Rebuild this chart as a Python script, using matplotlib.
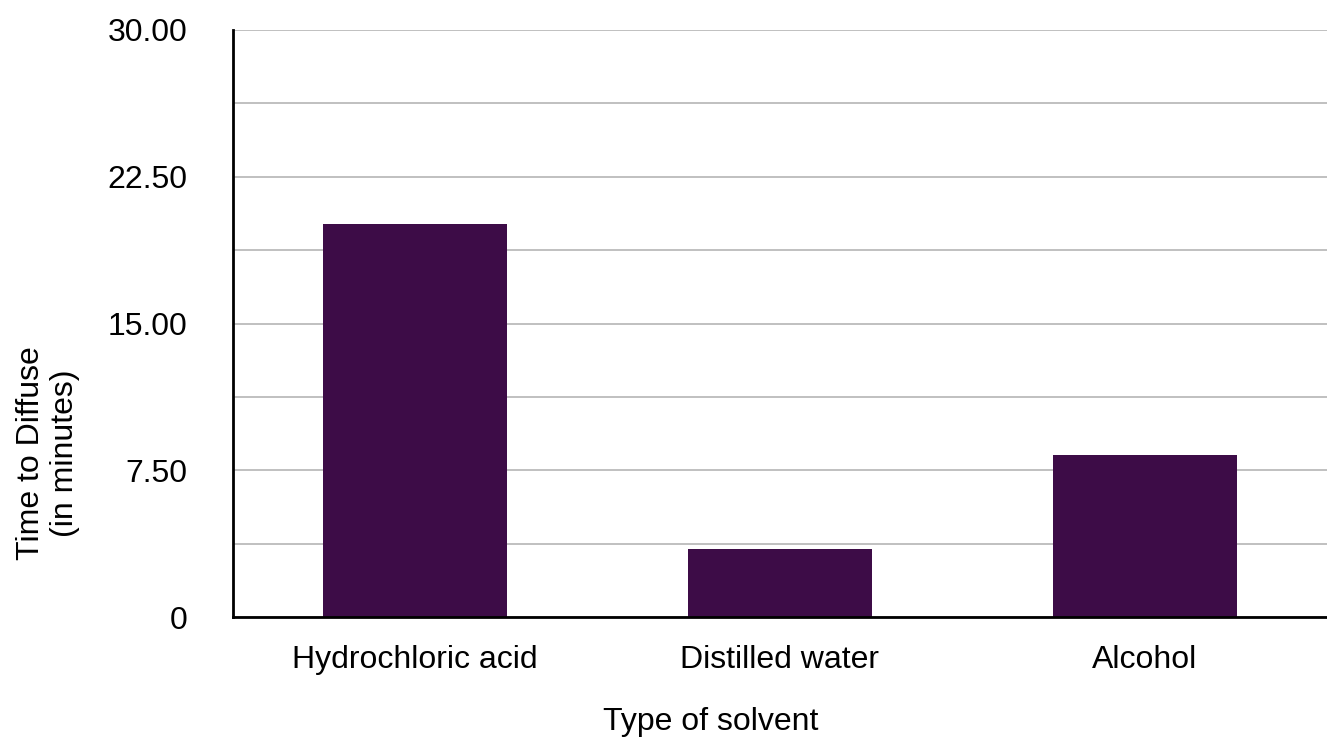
import matplotlib
matplotlib.use("Agg")
import matplotlib.pyplot as plt
from matplotlib.ticker import MultipleLocator, FuncFormatter

plt.rcParams["font.family"] = ["Liberation Sans", "DejaVu Sans"]

solvents = ["Hydrochloric acid", "Distilled water", "Alcohol"]
minutes = [20.1, 3.5, 8.3]
ytick_values = [0, 7.5, 15, 22.5, 30]

fig = plt.figure(figsize=(13.27, 7.40), dpi=100)
ax = fig.add_axes([0.1755, 0.166, 0.8245, 0.7935])

x = range(len(solvents))
ax.bar(x, minutes, width=0.505, color="#3d0c47", zorder=3)

ax.set_xlim(-0.5, len(solvents) - 0.5)
ax.set_ylim(0, 30)
ax.set_yticks(ytick_values)
ax.yaxis.set_major_formatter(FuncFormatter(lambda v, p: "0" if v == 0 else f"{v:.2f}"))
ax.yaxis.set_minor_locator(MultipleLocator(3.75))
ax.set_xticks(list(x))
ax.set_xticklabels(solvents)

ax.grid(axis="y", which="both", color="#c0c0c0", linewidth=1.4, zorder=0)
ax.tick_params(axis="both", which="both", length=0, labelsize=23)
ax.tick_params(axis="y", pad=33)
ax.tick_params(axis="x", pad=20)

for side in ["top", "right"]:
    ax.spines[side].set_visible(False)
ax.spines["left"].set_linewidth(2)
ax.spines["bottom"].set_linewidth(2)
ax.spines["left"].set_zorder(4)
ax.spines["bottom"].set_zorder(4)

ax.set_xlabel("Type of solvent", fontsize=23)
ax.set_ylabel("Time to Diffuse\n(in minutes)", fontsize=23)
ax.xaxis.set_label_coords(0.437, -0.178)
ax.yaxis.set_label_coords(-0.169, 0.279)
ax.yaxis.label.set_verticalalignment("center")
ax.xaxis.label.set_verticalalignment("center")

fig.savefig("out.png", dpi=100)
